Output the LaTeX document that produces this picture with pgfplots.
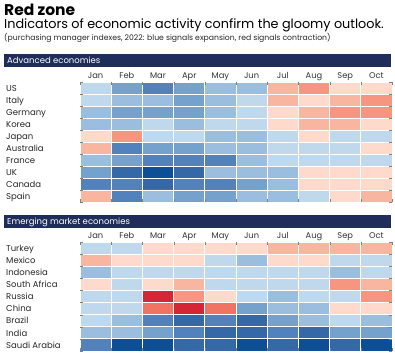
\documentclass[border=0pt]{standalone}
\usepackage{fontspec}
\setmainfont{Poppins}
\usepackage{pgfplots}
\pgfplotsset{compat=1.18}
\definecolor{navy}{RGB}{30,45,90}
\pgfplotsset{
  hm/.style={
    scale only axis, width=312pt,
    xmin=-0.5, xmax=9.5, y dir=reverse, enlargelimits=false,
    axis line style={draw=none}, major tick length=0pt,
    xtick={0,...,9}, xticklabels={Jan,Feb,Mar,Apr,May,Jun,Jul,Aug,Sep,Oct},
    xticklabel pos=upper,
    xticklabel style={anchor=base, yshift=4pt, font=\fontsize{8.3}{9}\selectfont, text=black!80},
    yticklabel style={anchor=base west, inner sep=0pt, xshift=-74pt, yshift=-3.2pt, font=\fontsize{8.5}{9}\selectfont, text=black!85},
    minor xtick={-0.5,0.5,...,9.5},
    xminorgrids, yminorgrids,
    minor grid style={white, line width=1pt},
    axis on top,
    colormap={pmi}{rgb255=(212,38,53) rgb255=(240,115,100) rgb255=(246,150,128) rgb255=(248,182,160) rgb255=(254,218,204) rgb255=(255,255,255) rgb255=(192,216,236) rgb255=(155,189,222) rgb255=(117,161,205) rgb255=(82,130,188) rgb255=(52,104,167) rgb255=(12,79,150)},
    colormap access=direct,
  }
}
\begin{document}
\begin{tikzpicture}
\useasboundingbox (0pt,0pt) rectangle (395pt,-356pt);
\node[anchor=base west, inner sep=0pt, font=\fontsize{15.5}{16}\selectfont\bfseries] at (4pt,-15pt) {Red zone};
\node[anchor=base west, inner sep=0pt, font=\fontsize{12.8}{13}\selectfont] at (4pt,-28pt) {Indicators of economic activity confirm the gloomy outlook.};
\node[anchor=base west, inner sep=0pt, font=\fontsize{7.7}{8}\selectfont, text=black!85] at (4pt,-40.8pt) {(purchasing manager indexes, 2022: blue signals expansion, red signals contraction)};
\fill[navy] (4pt,-54pt) rectangle (391pt,-66.5pt);
\node[anchor=base west, inner sep=0pt, text=white, font=\fontsize{8.5}{9}\selectfont] at (7pt,-63.5pt) {Advanced economies};
\fill[navy] (4pt,-215pt) rectangle (391pt,-228pt);
\node[anchor=base west, inner sep=0pt, text=white, font=\fontsize{8.5}{9}\selectfont] at (7pt,-224.5pt) {Emerging market economies};

\begin{axis}[hm, at={(80pt,-82pt)}, anchor=north west, height=120pt,
  ymin=-0.5, ymax=9.5, ytick={0,...,9}, minor ytick={-0.5,0.5,...,9.5},
  yticklabels={US,Italy,Germany,Korea,Japan,Australia,France,UK,Canada,Spain}]
\addplot[matrix plot*, mesh/cols=10, point meta=explicit] table[row sep=\\, meta expr=\thisrow{v}+5] {
x y v\\
0 0 1\\ 1 0 3\\ 2 0 4\\ 3 0 3\\ 4 0 2\\ 5 0 2\\ 6 0 -2\\ 7 0 -3\\ 8 0 -1\\ 9 0 -1\\
0 1 1\\ 1 1 2\\ 2 1 2\\ 3 1 3\\ 4 1 2\\ 5 1 1\\ 6 1 -2\\ 7 1 -1\\ 8 1 -2\\ 9 1 -3\\
0 2 2\\ 1 2 3\\ 2 2 3\\ 3 2 3\\ 4 2 2\\ 5 2 1\\ 6 2 -1\\ 7 2 -2\\ 8 2 -3\\ 9 2 -3\\
0 3 2\\ 1 3 2\\ 2 3 1\\ 3 3 2\\ 4 3 1\\ 5 3 1\\ 6 3 -1\\ 7 3 -2\\ 8 3 -2\\ 9 3 -1\\
0 4 -1\\ 1 4 -3\\ 2 4 1\\ 3 4 1\\ 4 4 2\\ 5 4 2\\ 6 4 1\\ 7 4 -1\\ 8 4 1\\ 9 4 1\\
0 5 -2\\ 1 5 4\\ 2 5 3\\ 3 5 3\\ 4 5 2\\ 5 5 2\\ 6 5 1\\ 7 5 1\\ 8 5 1\\ 9 5 -1\\
0 6 2\\ 1 6 3\\ 2 6 4\\ 3 6 4\\ 4 6 4\\ 5 6 2\\ 6 6 1\\ 7 6 1\\ 8 6 1\\ 9 6 1\\
0 7 3\\ 1 7 5\\ 2 7 6\\ 3 7 5\\ 4 7 2\\ 5 7 2\\ 6 7 2\\ 7 7 -1\\ 8 7 -1\\ 9 7 -1\\
0 8 4\\ 1 8 4\\ 2 8 5\\ 3 8 4\\ 4 8 4\\ 5 8 3\\ 6 8 2\\ 7 8 -1\\ 8 8 -1\\ 9 8 -1\\
0 9 -2\\ 1 9 4\\ 2 9 2\\ 3 9 3\\ 4 9 3\\ 5 9 2\\ 6 9 2\\ 7 9 1\\ 8 9 -1\\ 9 9 -2\\
};
\end{axis}

\begin{axis}[hm, at={(80pt,-242pt)}, anchor=north west, height=109pt,
  ymin=-0.5, ymax=8.5, ytick={0,...,8}, minor ytick={-0.5,0.5,...,8.5},
  yticklabels={Turkey,Mexico,Indonesia,South Africa,Russia,China,Brazil,India,Saudi Arabia}]
\addplot[matrix plot*, mesh/cols=10, point meta=explicit] table[row sep=\\, meta expr=\thisrow{v}+5] {
x y v\\
0 0 1\\ 1 0 1\\ 2 0 -1\\ 3 0 -1\\ 4 0 -1\\ 5 0 -1\\ 6 0 -2\\ 7 0 -2\\ 8 0 -2\\ 9 0 -2\\
0 1 -2\\ 1 1 -1\\ 2 1 -1\\ 3 1 -1\\ 4 1 1\\ 5 1 2\\ 6 1 -1\\ 7 1 -1\\ 8 1 1\\ 9 1 1\\
0 2 2\\ 1 2 1\\ 2 2 1\\ 3 2 1\\ 4 2 1\\ 5 2 1\\ 6 2 1\\ 7 2 1\\ 8 2 2\\ 9 2 1\\
0 3 -1\\ 1 3 1\\ 2 3 -1\\ 3 3 -2\\ 4 3 1\\ 5 3 1\\ 6 3 1\\ 7 3 1\\ 8 3 -3\\ 9 3 -2\\
0 4 1\\ 1 4 1\\ 2 4 -5\\ 3 4 -3\\ 4 4 -1\\ 5 4 1\\ 6 4 2\\ 7 4 1\\ 8 4 1\\ 9 4 -3\\
0 5 1\\ 1 5 1\\ 2 5 -4\\ 3 5 -5\\ 4 5 -4\\ 5 5 3\\ 6 5 2\\ 7 5 2\\ 8 5 -1\\ 9 5 -1\\
0 6 1\\ 1 6 2\\ 2 6 4\\ 3 6 5\\ 4 6 4\\ 5 6 5\\ 6 6 3\\ 7 6 2\\ 8 6 1\\ 9 6 2\\
0 7 2\\ 1 7 2\\ 2 7 3\\ 3 7 4\\ 4 7 5\\ 5 7 5\\ 6 7 4\\ 7 7 5\\ 8 7 3\\ 9 7 3\\
0 8 4\\ 1 8 6\\ 2 8 6\\ 3 8 5\\ 4 8 5\\ 5 8 6\\ 6 8 5\\ 7 8 6\\ 8 8 5\\ 9 8 6\\
};
\end{axis}
\end{tikzpicture}
\end{document}
